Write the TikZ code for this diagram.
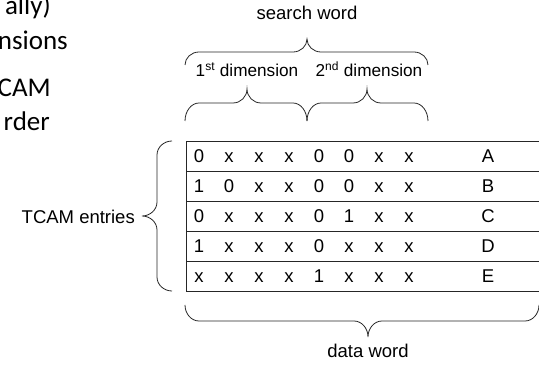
\documentclass[tikz,border=0pt]{standalone}
\usepackage{fontspec}
\setmainfont{Liberation Sans}
\newfontfamily\slidefont{Carlito}
% horizontal brace: x1 x2 xt ye yl yt
\newcommand\hbrace[6]{%
  \draw[bracepath] (#1,#4) .. controls (#1,{#5+0.45*(#4-#5)}) and ({#1+0.45*14},#5) .. ({#1+14},#5)
    -- ({#3-14},#5) .. controls ({#3-0.45*14},#5) and (#3,{#5+0.45*(#6-#5)}) .. (#3,#6)
    .. controls (#3,{#5+0.45*(#6-#5)}) and ({#3+0.45*14},#5) .. ({#3+14},#5)
    -- ({#2-14},#5) .. controls ({#2-0.45*14},#5) and (#2,{#5+0.45*(#4-#5)}) .. (#2,#4);}
% vertical brace: y1 y2 yt xe xl xt
\newcommand\vbrace[6]{%
  \draw[bracepath] (#4,#1) .. controls ({#5+0.45*(#4-#5)},#1) and (#5,{#1+0.45*14}) .. (#5,{#1+14})
    -- (#5,{#3-14}) .. controls (#5,{#3-0.45*14}) and ({#5+0.45*(#6-#5)},#3) .. (#6,#3)
    .. controls ({#5+0.45*(#6-#5)},#3) and (#5,{#3+0.45*14}) .. (#5,{#3+14})
    -- (#5,{#2-14}) .. controls (#5,{#2-0.45*14}) and ({#5+0.45*(#4-#5)},#2) .. (#4,#2);}
\begin{document}
\begin{tikzpicture}[x=1pt,y=-1pt,
  bracepath/.style={draw=black!85, line width=0.8pt},
  lbl/.style={inner sep=0pt, font=\fontsize{18.5}{20}\selectfont},
  dimlbl/.style={inner sep=0pt, anchor=base, font=\fontsize{17.2}{19}\selectfont},
  cell/.style={inner sep=0pt, anchor=base, font=\fontsize{18.5}{20}\selectfont},
  slide/.style={inner sep=0pt, anchor=base east, font=\slidefont\fontsize{27}{31}\selectfont},
  tline/.style={draw=black!85, line width=0.9pt}]
\useasboundingbox (0,0) rectangle (539,366);
\clip (0,0) rectangle (539,366);
\fill[white] (0,0) rectangle (539,366);
% cut-off slide text
\node[slide] (s1) at (51,15) {ally)};
\node[slide] (s2) at (68,50) {nsions};
\node[slide] (s3) at (51,97) {CAM};
\node[slide] (s4) at (50,131) {rder};
% search word
\node[lbl, anchor=base] (sw) at (307,20) {search word};
\hbrace{185}{428}{307}{65}{52}{39}
\node[dimlbl] (d1) at (247,77) {1\textsuperscript{st} dimension};
\node[dimlbl] (d2) at (369,77) {2\textsuperscript{nd} dimension};
\hbrace{185}{307}{247}{121}{103}{89}
\hbrace{307}{428}{367}{121}{103}{89}
% table
\draw[tline] (560,141) -- (186,141) -- (186,291) -- (560,291);
\foreach \yy in {171,201,231,261} \draw[tline] (186,\yy) -- (560,\yy);
\foreach \row/\bits/\lab [count=\r] in {%
  1/{0,x,x,x,0,0,x,x}/A,
  2/{1,0,x,x,0,0,x,x}/B,
  3/{0,x,x,x,0,1,x,x}/C,
  4/{1,x,x,x,0,x,x,x}/D,
  5/{x,x,x,x,1,x,x,x}/E}{
  \foreach \b [count=\c] in \bits {
    \node[cell] (c\r-\c) at ({199+30*(\c-1)},{162.5+30*(\r-1)}) {\b};
  }
  \node[cell] (l\r) at (488,{162.5+30*(\r-1)}) {\lab};
}
% TCAM entries
\vbrace{141}{291}{216}{172}{157}{142}
\node[lbl, anchor=east] (te) at (135,217) {TCAM entries};
% data word
\hbrace{185}{539}{368}{305}{321}{337}
\node[lbl, anchor=base] (dw) at (368,358) {data word};
\end{tikzpicture}
\end{document}
